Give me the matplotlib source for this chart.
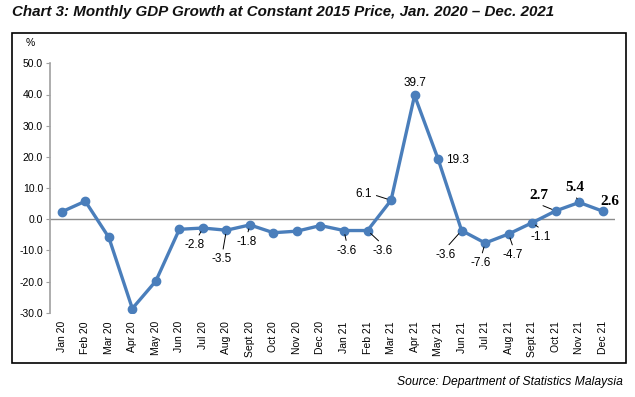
import matplotlib
matplotlib.use("Agg")
import matplotlib.pyplot as plt
from matplotlib.patches import Rectangle

months = ["Jan 20", "Feb 20", "Mar 20", "Apr 20", "May 20", "Jun 20", "Jul 20", "Aug 20",
          "Sept 20", "Oct 20", "Nov 20", "Dec 20", "Jan 21", "Feb 21", "Mar 21", "Apr 21",
          "May 21", "Jun 21", "Jul 21", "Aug 21", "Sept 21", "Oct 21", "Nov 21", "Dec 21"]
growth = [2.4, 5.8, -5.8, -28.6, -19.8, -3.2, -2.8, -3.5, -1.8, -4.3, -3.8, -2.0,
          -3.6, -3.6, 6.1, 39.7, 19.3, -3.6, -7.6, -4.7, -1.1, 2.7, 5.4, 2.6]
yticks = [-30, -20, -10, 0, 10, 20, 30, 40, 50]
ytick_labels = ["-30.0", "-20.0", "-10.0", "0.0", "10.0", "20.0", "30.0", "40.0", "50.0"]

# labelled points
labels_idx = [6, 7, 8, 12, 13, 14, 15, 16, 17, 18, 19, 20, 21, 22, 23]
label_off = [(-8, -17), (-5, -29), (-3, -17), (3, -20), (15, -20), (-27, 6), (0, 12),
             (19, -1), (-16, -24), (-4, -20), (4, -21), (9, -14), (-17, 15), (-4, 15), (7, 10)]
label_rel = [(0.6, 1), (0.55, 1), (0.5, 1), (0.5, 1), (0.5, 1), (1, 0.5), None,
             None, (0.5, 1), (0.5, 1), (0.55, 1), (0.6, 1), (0.3, 0), (0.45, 0), None]
label_bold = [False] * 12 + [True, True, True]

W, H = 635, 397
fig = plt.figure(figsize=(W / 100, H / 100), dpi=100)
fig.patch.set_facecolor("white")

# frame
fig.patches.append(Rectangle((12 / W, 1 - 363 / H), (626 - 12) / W, (363 - 33) / H,
                             transform=fig.transFigure, fill=False, edgecolor="black",
                             linewidth=1.2))

ax_l, ax_r, ax_t, ax_b = 50, 614.5, 63.3, 312.9
ax = fig.add_axes([ax_l / W, 1 - ax_b / H, (ax_r - ax_l) / W, (ax_b - ax_t) / H])
ax.set_facecolor("none")

color = "#4a7ebb"
x = list(range(len(months)))
ax.axhline(0, color="#8c8c8c", lw=1.0, zorder=1)
ax.plot(x, growth, color=color, lw=2.4, marker="o", markersize=6, zorder=3)

ax.set_xlim(-0.5, len(months) - 0.5)
ax.set_ylim(-30, 50)
ax.set_yticks(yticks)
ax.set_yticklabels(ytick_labels, fontsize=7.5, family="Liberation Sans")
ax.set_xticks(x)
ax.set_xticklabels(months, rotation=90, fontsize=7.5, family="Liberation Sans")
ax.tick_params(axis="x", length=0, pad=6)
ax.tick_params(axis="y", length=3, color="#a0a0a0", pad=2)
for s in ["top", "right", "bottom"]:
    ax.spines[s].set_visible(False)
ax.spines["left"].set_color("#a0a0a0")
ax.spines["left"].set_linewidth(1.2)

for idx, off, rel, bold in zip(labels_idx, label_off, label_rel, label_bold):
    val = growth[idx]
    txt = f"{val:.1f}"
    kw = dict(fontsize=11, family="Liberation Serif", fontweight="bold") if bold else \
        dict(fontsize=8.5, family="Liberation Sans")
    ap = None
    if rel is not None:
        ap = dict(arrowstyle="-", color="black", lw=0.7, shrinkA=1, shrinkB=3, relpos=rel)
    ax.annotate(txt, xy=(idx, val), xytext=off, textcoords="offset pixels",
                ha="center", va="center", arrowprops=ap, zorder=4, **kw)

fig.text(30 / W, 1 - 43 / H, "%", fontsize=7.5, family="Liberation Sans", ha="center", va="center")
fig.text(12 / W, 1 - 12 / H, "Chart 3: Monthly GDP Growth at Constant 2015 Price, Jan. 2020 \u2013 Dec. 2021",
         fontsize=10.9, family="Liberation Sans", fontweight="bold", style="italic",
         ha="left", va="center", color="#111111")
fig.text(623 / W, 1 - 381.5 / H, "Source: Department of Statistics Malaysia", fontsize=8.7,
         family="Liberation Sans", style="italic", ha="right", va="center")

fig.savefig("out.png", dpi=100)
